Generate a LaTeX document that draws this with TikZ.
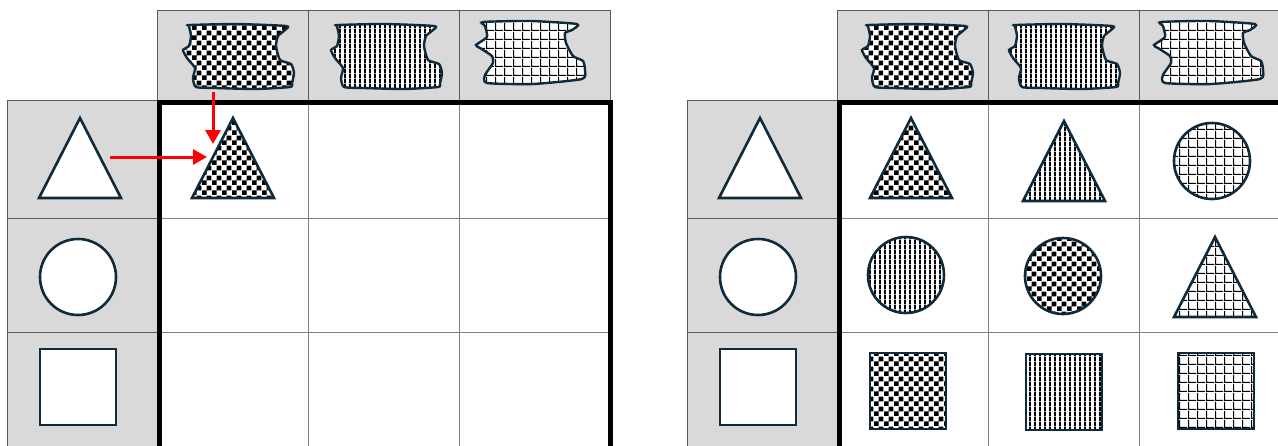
\documentclass[tikz,border=0pt]{standalone}
\usepackage{tikz}
\usetikzlibrary{arrows.meta,patterns}
\definecolor{mnavy}{HTML}{0E2A3B}
\definecolor{mhead}{HTML}{D9D9D9}
\definecolor{mred}{HTML}{FF0000}
\pgfdeclarepatternformonly{mchecker}{\pgfpointorigin}{\pgfqpoint{9.6pt}{9.6pt}}{\pgfqpoint{9.6pt}{9.6pt}}{%
  \pgfpathrectangle{\pgfpointorigin}{\pgfqpoint{4.8pt}{4.8pt}}%
  \pgfpathrectangle{\pgfqpoint{4.8pt}{4.8pt}}{\pgfqpoint{4.8pt}{4.8pt}}%
  \pgfusepath{fill}}
\pgfdeclarepatternformonly{mstripes}{\pgfpointorigin}{\pgfqpoint{4.7pt}{4.7pt}}{\pgfqpoint{4.7pt}{4.7pt}}{%
  \pgfpathrectangle{\pgfpointorigin}{\pgfqpoint{2pt}{4.7pt}}%
  \pgfusepath{fill}}
\pgfdeclarepatternformonly{mgrid}{\pgfpointorigin}{\pgfqpoint{9pt}{9pt}}{\pgfqpoint{9pt}{9pt}}{%
  \pgfpathrectangle{\pgfpointorigin}{\pgfqpoint{9pt}{1.2pt}}%
  \pgfpathrectangle{\pgfpointorigin}{\pgfqpoint{1.2pt}{9pt}}%
  \pgfusepath{fill}}
\tikzset{
  >={Triangle[length=14pt,width=15pt]},
  mhdcell/.style={fill=mhead, draw=black!65, line width=1pt},
  mbody/.style={draw=black!50, line width=1pt},
  mrowline/.style={draw=black!65, line width=1pt},
  mframe/.style={draw=black, line width=5pt},
  mshape/.style={draw=mnavy, line width=2.6pt},
  plain/.style={fill=white},
  chk/.style={preaction={fill=white}, pattern=mchecker, pattern color=black},
  stp/.style={preaction={fill=white}, pattern=mstripes, pattern color=black},
  grd/.style={preaction={fill=white}, pattern=mgrid, pattern color=black},
  mptr/.style={->, mred, line width=3pt},
  pics/tri/.style={code={\draw[mshape,#1] (-41,40) -- (0,-40) -- (41,40) -- cycle;}},
  pics/circ/.style={code={\draw[mshape,#1] (0,0) circle[radius=38pt];}},
  pics/sq/.style={code={\draw[mshape,#1] (-38,-38) rectangle (38,38);}},
  pics/swatchA/.style={code={\draw[mshape,line width=2.4pt,#1]
    plot[smooth cycle,tension=0.35] coordinates {(-49,-32) (-3,-33) (47,-31) (46,-27)
    (39,-21) (37,-11) (41,3) (52,7) (55,16) (53,26) (51,30) (17,32) (-23,31) (-43,30)
    (-46,21) (-44,11) (-52,1) (-56,-7) (-50,-11) (-48,-21) (-50,-31)};}},
  pics/swatchB/.style={code={\draw[mshape,line width=2.4pt,#1]
    plot[smooth cycle,tension=0.35] coordinates {(-47,-31) (0,-32) (47,-29) (42,-23)
    (35,-20) (36,-10) (43,3) (53,8) (55,17) (52,26) (3,31) (-43,30) (-45,22) (-37,10)
    (-38,3) (-50,-5) (-54,-8) (-43,-16) (-45,-27)};}},
}

\begin{document}
\begin{tikzpicture}[x=1pt,y=-1pt]

  \useasboundingbox (0,0) rectangle (1278,445);
  \clip (0,0) rectangle (1278,445);

  \foreach \ox in {0,680} {
    \foreach \c in {0,1,2}
      \draw[mhdcell] (157+\ox+151*\c,10) rectangle ++(151,90);
    \draw[mhdcell] (7+\ox,100) rectangle (157+\ox,450);
    \foreach \y in {218,332}
      \draw[mrowline] (7+\ox,\y) -- (157+\ox,\y);
    \fill[white] (157+\ox,100) rectangle (610+\ox,450);
    \foreach \x in {308,459}
      \draw[mbody] (\x+\ox,100) -- (\x+\ox,450);
    \foreach \y in {218,332}
      \draw[mbody] (157+\ox,\y) -- (610+\ox,\y);
    \draw[mframe] (159+\ox,450) -- (159+\ox,102) -- (610+\ox,102) -- (610+\ox,450);
    \pic at (80+\ox,158) {tri=plain};
    \pic at (78+\ox,277) {circ=plain};
    \pic at (78+\ox,387) {sq=plain};
  }

  \pic at (239,57) {swatchA=chk};
  \pic at (387,57) {swatchA=stp};
  \pic at (530,53) {swatchB=grd};
  \pic at (233,158) {tri=chk};

  \pic at (918,57) {swatchA=chk};
  \pic at (1065,57) {swatchA=stp};
  \pic at (1208,53) {swatchB=grd};

  \pic at (911,158) {tri=chk};
  \pic at (1064,161) {tri=stp};
  \pic at (1212,161) {circ=grd};
  \pic at (906,275) {circ=stp};
  \pic at (1063,276) {circ=chk};
  \pic at (1215,277) {tri=grd};
  \pic at (908,391) {sq=chk};
  \pic at (1064,392) {sq=stp};
  \pic at (1216,391) {sq=grd};

  \coordinate (hdsrc) at (213,92);
  \coordinate (hdtip) at (213,144);
  \coordinate (rwsrc) at (110,157);
  \coordinate (rwtip) at (207,157);
  \draw[mptr] (hdsrc) -- (hdtip);
  \draw[mptr] (rwsrc) -- (rwtip);

\end{tikzpicture}
\end{document}
